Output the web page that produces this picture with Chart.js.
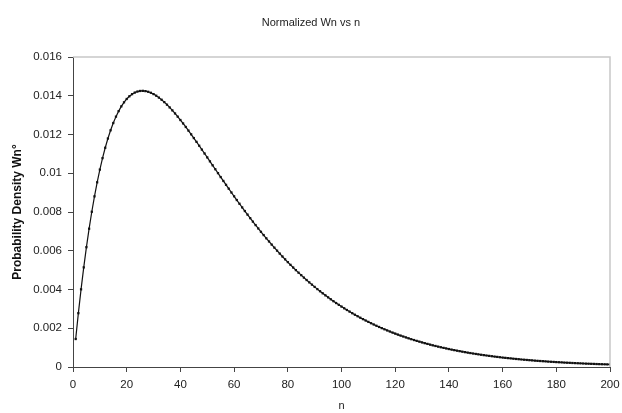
<!DOCTYPE html>
<html>
<head>
<meta charset="utf-8">
<script src="https://cdn.jsdelivr.net/npm/chart.js@4/dist/chart.umd.min.js"></script>
<style>
  html, body { margin: 0; padding: 0; background: #fff; }
  #wrap { width: 622px; height: 413px; position: relative; }
</style>
</head>
<body>
<div id="wrap"><canvas id="graficWn"></canvas></div>
<script>
// Date: Wn normalizat pentru n = 1..200
const chartTitle = 'Normalized Wn vs n';
const xTitle = 'n';
const yTitle = 'Probability Density Wn°';
const firstN = 1;
const wnValues = [
  0.001444, 0.002778, 0.004009, 0.005142, 0.006184, 0.007138, 0.008012, 0.008808, 0.009533, 0.010189,
  0.010782, 0.011316, 0.011793, 0.012217, 0.012592, 0.012922, 0.013207, 0.013453, 0.013661, 0.013833,
  0.013973, 0.014082, 0.014163, 0.014217, 0.014247, 0.014253, 0.014239, 0.014205, 0.014154, 0.014085,
  0.014002, 0.013904, 0.013794, 0.013672, 0.013539, 0.013397, 0.013246, 0.013086, 0.012921, 0.012748,
  0.012571, 0.012388, 0.012201, 0.012010, 0.011816, 0.011620, 0.011421, 0.011221, 0.011020, 0.010817,
  0.010614, 0.010411, 0.010208, 0.010005, 0.009803, 0.009602, 0.009402, 0.009204, 0.009007, 0.008811,
  0.008618, 0.008426, 0.008237, 0.008050, 0.007865, 0.007682, 0.007502, 0.007325, 0.007150, 0.006978,
  0.006809, 0.006642, 0.006479, 0.006318, 0.006160, 0.006005, 0.005853, 0.005703, 0.005557, 0.005414,
  0.005273, 0.005135, 0.005000, 0.004868, 0.004739, 0.004613, 0.004489, 0.004368, 0.004250, 0.004134,
  0.004021, 0.003911, 0.003803, 0.003698, 0.003595, 0.003495, 0.003397, 0.003302, 0.003209, 0.003118,
  0.003030, 0.002943, 0.002859, 0.002777, 0.002697, 0.002620, 0.002544, 0.002470, 0.002398, 0.002328,
  0.002260, 0.002194, 0.002129, 0.002067, 0.002006, 0.001946, 0.001888, 0.001832, 0.001777, 0.001724,
  0.001672, 0.001622, 0.001573, 0.001526, 0.001480, 0.001435, 0.001391, 0.001349, 0.001308, 0.001268,
  0.001229, 0.001192, 0.001155, 0.001119, 0.001085, 0.001051, 0.001019, 0.000987, 0.000957, 0.000927,
  0.000898, 0.000870, 0.000843, 0.000817, 0.000791, 0.000766, 0.000742, 0.000719, 0.000696, 0.000674,
  0.000653, 0.000632, 0.000612, 0.000593, 0.000574, 0.000556, 0.000538, 0.000521, 0.000504, 0.000488,
  0.000473, 0.000458, 0.000443, 0.000429, 0.000415, 0.000402, 0.000388, 0.000376, 0.000364, 0.000352,
  0.000341, 0.000330, 0.000319, 0.000309, 0.000299, 0.000289, 0.000280, 0.000270, 0.000262, 0.000253,
  0.000245, 0.000237, 0.000229, 0.000222, 0.000215, 0.000207, 0.000201, 0.000194, 0.000187, 0.000181,
  0.000175, 0.000170, 0.000164, 0.000159, 0.000153, 0.000148, 0.000143, 0.000139, 0.000134, 0.000130
];
const xTicks = [0, 20, 40, 60, 80, 100, 120, 140, 160, 180, 200];
const yTicks = [0, 0.002, 0.004, 0.006, 0.008, 0.01, 0.012, 0.014, 0.016];
const yTickLabels = ['0', '0.002', '0.004', '0.006', '0.008', '0.01', '0.012', '0.014', '0.016'];

const puncte = wnValues.map((v, i) => ({ x: firstN + i, y: v }));

// titlul si chenarul gri (sus si dreapta) ca in Excel
const chenar = {
  id: 'chenar',
  afterDraw(chart) {
    const { ctx, chartArea: a } = chart;
    ctx.save();
    ctx.strokeStyle = '#c8c8c8';
    ctx.lineWidth = 1.5;
    ctx.beginPath();
    ctx.moveTo(a.left, a.top);
    ctx.lineTo(a.right, a.top);
    ctx.lineTo(a.right, a.bottom);
    ctx.stroke();
    ctx.fillStyle = '#222';
    ctx.font = '11px Arial, "Liberation Sans", sans-serif';
    ctx.textAlign = 'center';
    ctx.textBaseline = 'middle';
    ctx.fillText(chartTitle, 311, 23);
    ctx.restore();
  }
};

const tickFont = { family: 'Arial, "Liberation Sans", sans-serif', size: 11.5 };

new Chart(document.getElementById('graficWn'), {
  type: 'scatter',
  data: {
    datasets: [{
      data: puncte,
      showLine: true,
      borderColor: '#111',
      borderWidth: 1.2,
      pointStyle: 'rect',
      pointRadius: 1.6,
      pointBackgroundColor: '#111',
      pointBorderColor: '#111',
      pointBorderWidth: 0
    }]
  },
  options: {
    responsive: true,
    maintainAspectRatio: false,
    animation: false,
    layout: { padding: { top: 57, right: 0, left: 0, bottom: 0 } },
    plugins: { legend: { display: false }, tooltip: { enabled: false } },
    scales: {
      x: {
        type: 'linear',
        min: 0,
        max: 200,
        afterBuildTicks: s => { s.ticks = xTicks.map(v => ({ value: v })); },
        afterFit: s => { s.height = 46; s.paddingRight = 12; s.paddingLeft = 0; },
        border: { color: '#444', width: 1 },
        grid: { drawOnChartArea: false, drawTicks: true, tickLength: 5, color: '#444' },
        ticks: { color: '#222', font: tickFont, padding: 6, maxRotation: 0 },
        title: { display: true, text: xTitle, color: '#222', font: { family: tickFont.family, size: 11 }, padding: { top: 2, bottom: 0 } }
      },
      y: {
        min: 0,
        max: 0.016,
        afterBuildTicks: s => { s.ticks = yTicks.map(v => ({ value: v })); },
        afterFit: s => { s.width = 73; },
        border: { color: '#444', width: 1 },
        grid: { drawOnChartArea: false, drawTicks: true, tickLength: 5, color: '#444' },
        ticks: {
          color: '#222',
          font: tickFont,
          padding: 6,
          callback: (v, i) => yTickLabels[i]
        },
        title: { display: true, text: yTitle, color: '#111', font: { family: tickFont.family, size: 12, weight: 'bold' }, padding: { top: 10, bottom: 0 } }
      }
    }
  },
  plugins: [chenar]
});
</script>
</body>
</html>
